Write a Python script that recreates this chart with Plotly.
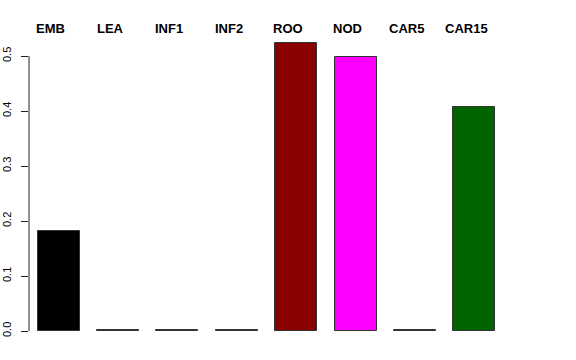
import plotly.graph_objects as go

categories = ["EMB", "LEA", "INF1", "INF2", "ROO", "NOD", "CAR5", "CAR15"]
values = [0.182, 0.001, 0.001, 0.001, 0.524, 0.499, 0.001, 0.407]
colors = ["#000000", "#FF0000", "#00FF00", "#0000FF", "#8B0000", "#FF00FF", "#FFA500", "#006400"]
yticks = [0.0, 0.1, 0.2, 0.3, 0.4, 0.5]

xpos = list(range(len(categories)))

fig = go.Figure()
fig.add_trace(go.Bar(
    x=xpos, y=values, width=0.708,
    marker=dict(color=colors, line=dict(color="#333333", width=1)),
    showlegend=False, hoverinfo="skip",
))

for i, c in enumerate(categories):
    fig.add_annotation(
        x=i - 0.135, y=1 + (40 - 29) / 291, xref="x", yref="paper",
        text="<b>%s</b>" % c, showarrow=False,
        xanchor="center", yanchor="middle",
        font=dict(family="Liberation Sans, Arial, sans-serif", size=13, color="black"),
    )

fig.add_shape(type="line", xref="paper", yref="y", x0=0, x1=0,
              y0=yticks[0], y1=yticks[-1], line=dict(color="#222222", width=1))

fig.update_layout(
    width=576, height=360,
    margin=dict(l=29, r=72, t=40, b=29),
    paper_bgcolor="white", plot_bgcolor="white",
    xaxis=dict(range=[-0.5, 7.5], showticklabels=False, showgrid=False,
               zeroline=False, showline=False, ticks="", automargin=False),
    yaxis=dict(range=[0, 291 / 550], tickvals=yticks, tickformat=".1f",
               tickangle=-90, ticks="outside", ticklen=7, tickcolor="#222222",
               showgrid=False, zeroline=False, showline=False, automargin=False,
               ticklabelstandoff=6,
               tickfont=dict(family="Liberation Sans, Arial, sans-serif", size=11, color="black")),
    bargap=0,
)

fig.write_html("out.html")
